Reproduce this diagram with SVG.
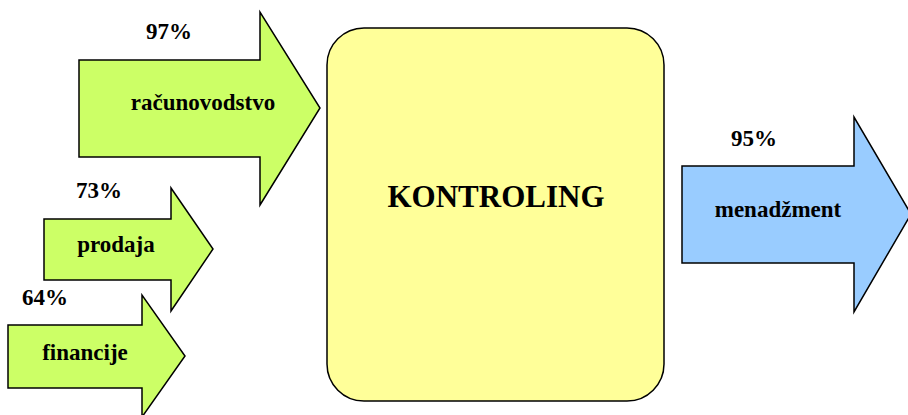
<svg xmlns="http://www.w3.org/2000/svg" width="908" height="415" viewBox="0 0 908 415">
<style>
.arr{stroke:#000;stroke-width:1.5;stroke-linejoin:miter}
.g{fill:#CCFF66}
.b{fill:#99CCFF}
.box{fill:#FFFF99;stroke:#000;stroke-width:1.5}
.lbl{font-size:23px}
.big{font-size:31px}
</style>
<rect width="908" height="415" fill="#fff"/>
<g font-family="'Liberation Serif', 'Times New Roman', 'DejaVu Serif', serif" font-weight="bold" text-anchor="middle" fill="#000">
<g id="connectors">
<g id="racunovodstvo">
<polygon class="arr g" points="79,60 260,60 260,12 320,108 260,205 260,157 79,157"/>
<text class="lbl" x="203" y="110">računovodstvo</text>
<text class="lbl" x="169" y="39">97%</text>
</g>
<g id="prodaja">
<polygon class="arr g" points="44,219 171,219 171,188 213,249 171,311 171,280 44,280"/>
<text class="lbl" x="116" y="252">prodaja</text>
<text class="lbl" x="99" y="198">73%</text>
</g>
<g id="financije">
<polygon class="arr g" points="8,325 142,325 142,295 185,356 142,417 142,388 8,388"/>
<text class="lbl" x="85" y="360">financije</text>
<text class="lbl" x="45" y="305">64%</text>
</g>
<g id="menadzment">
<polygon class="arr b" points="682,166 854,166 854,117 911,214 854,312 854,263 682,263"/>
<text class="lbl" x="778" y="217">menadžment</text>
<text class="lbl" x="754" y="146">95%</text>
</g>
</g>
<g id="kontroling">
<rect class="box" x="327" y="28" width="337" height="373" rx="37" ry="37"/>
<text class="big" x="496" y="207">KONTROLING</text>
</g>
</g>
</svg>
